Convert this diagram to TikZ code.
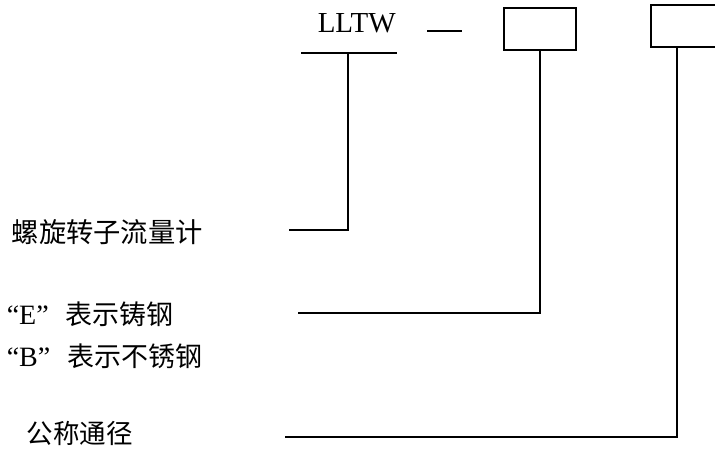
\documentclass[tikz,border=0pt]{standalone}
\usepackage{fontspec}
\setmainfont{Liberation Serif}
\newfontfamily\cjk{Noto Sans CJK SC}
\begin{document}
\begin{tikzpicture}[x=1pt,y=-1pt,line width=1.5pt,
  lbl/.style={anchor=west,inner sep=0pt},
  codebox/.style={draw,line width=1.5pt,minimum width=72pt,minimum height=42pt,inner sep=0pt}]
\useasboundingbox (0,0) rectangle (715,454);
\clip (0,0) rectangle (715,454);
% code parts
\node[anchor=base west,inner sep=0pt,font=\fontsize{29}{29}\selectfont] (lltw) at (317,33) {LLTW};
\coordinate (ulL) at (301,53);
\coordinate (ulR) at (397,53);
\draw[line width=2.4pt] (ulL) -- (ulR);
\coordinate (dashL) at (427,31);
\coordinate (dashR) at (462,31);
\draw[line width=2.4pt] (dashL) -- (dashR);
\node[codebox] (box1) at (540,29) {};
\node[codebox] (box2) at (687,26) {};
% labels
\node[lbl,font=\fontsize{27.3}{28}\selectfont\cjk] (t1) at (11,232) {螺旋转子流量计};
\node[lbl,font=\fontsize{28}{28}\selectfont] (t2) at (6,314) {“E”\hspace{17pt}{\fontsize{27}{28}\selectfont\cjk 表示铸钢}};
\node[lbl,font=\fontsize{28}{28}\selectfont] (t3) at (6,356) {“B”\hspace{17pt}{\fontsize{27}{28}\selectfont\cjk 表示不锈钢}};
\node[lbl,font=\fontsize{26.5}{28}\selectfont\cjk] (t4) at (26,433) {公称通径};
% connector ends
\coordinate (c1top) at (348,53);
\coordinate (c1end) at (289,230);
\coordinate (c2end) at (298,313);
\coordinate (c3top) at (677,47);
\coordinate (c3end) at (285,437);
% connectors
\draw (c1top) |- (c1end);
\draw (box1.south) |- (c2end);
\draw (c3top) |- (c3end);
\end{tikzpicture}
\end{document}
